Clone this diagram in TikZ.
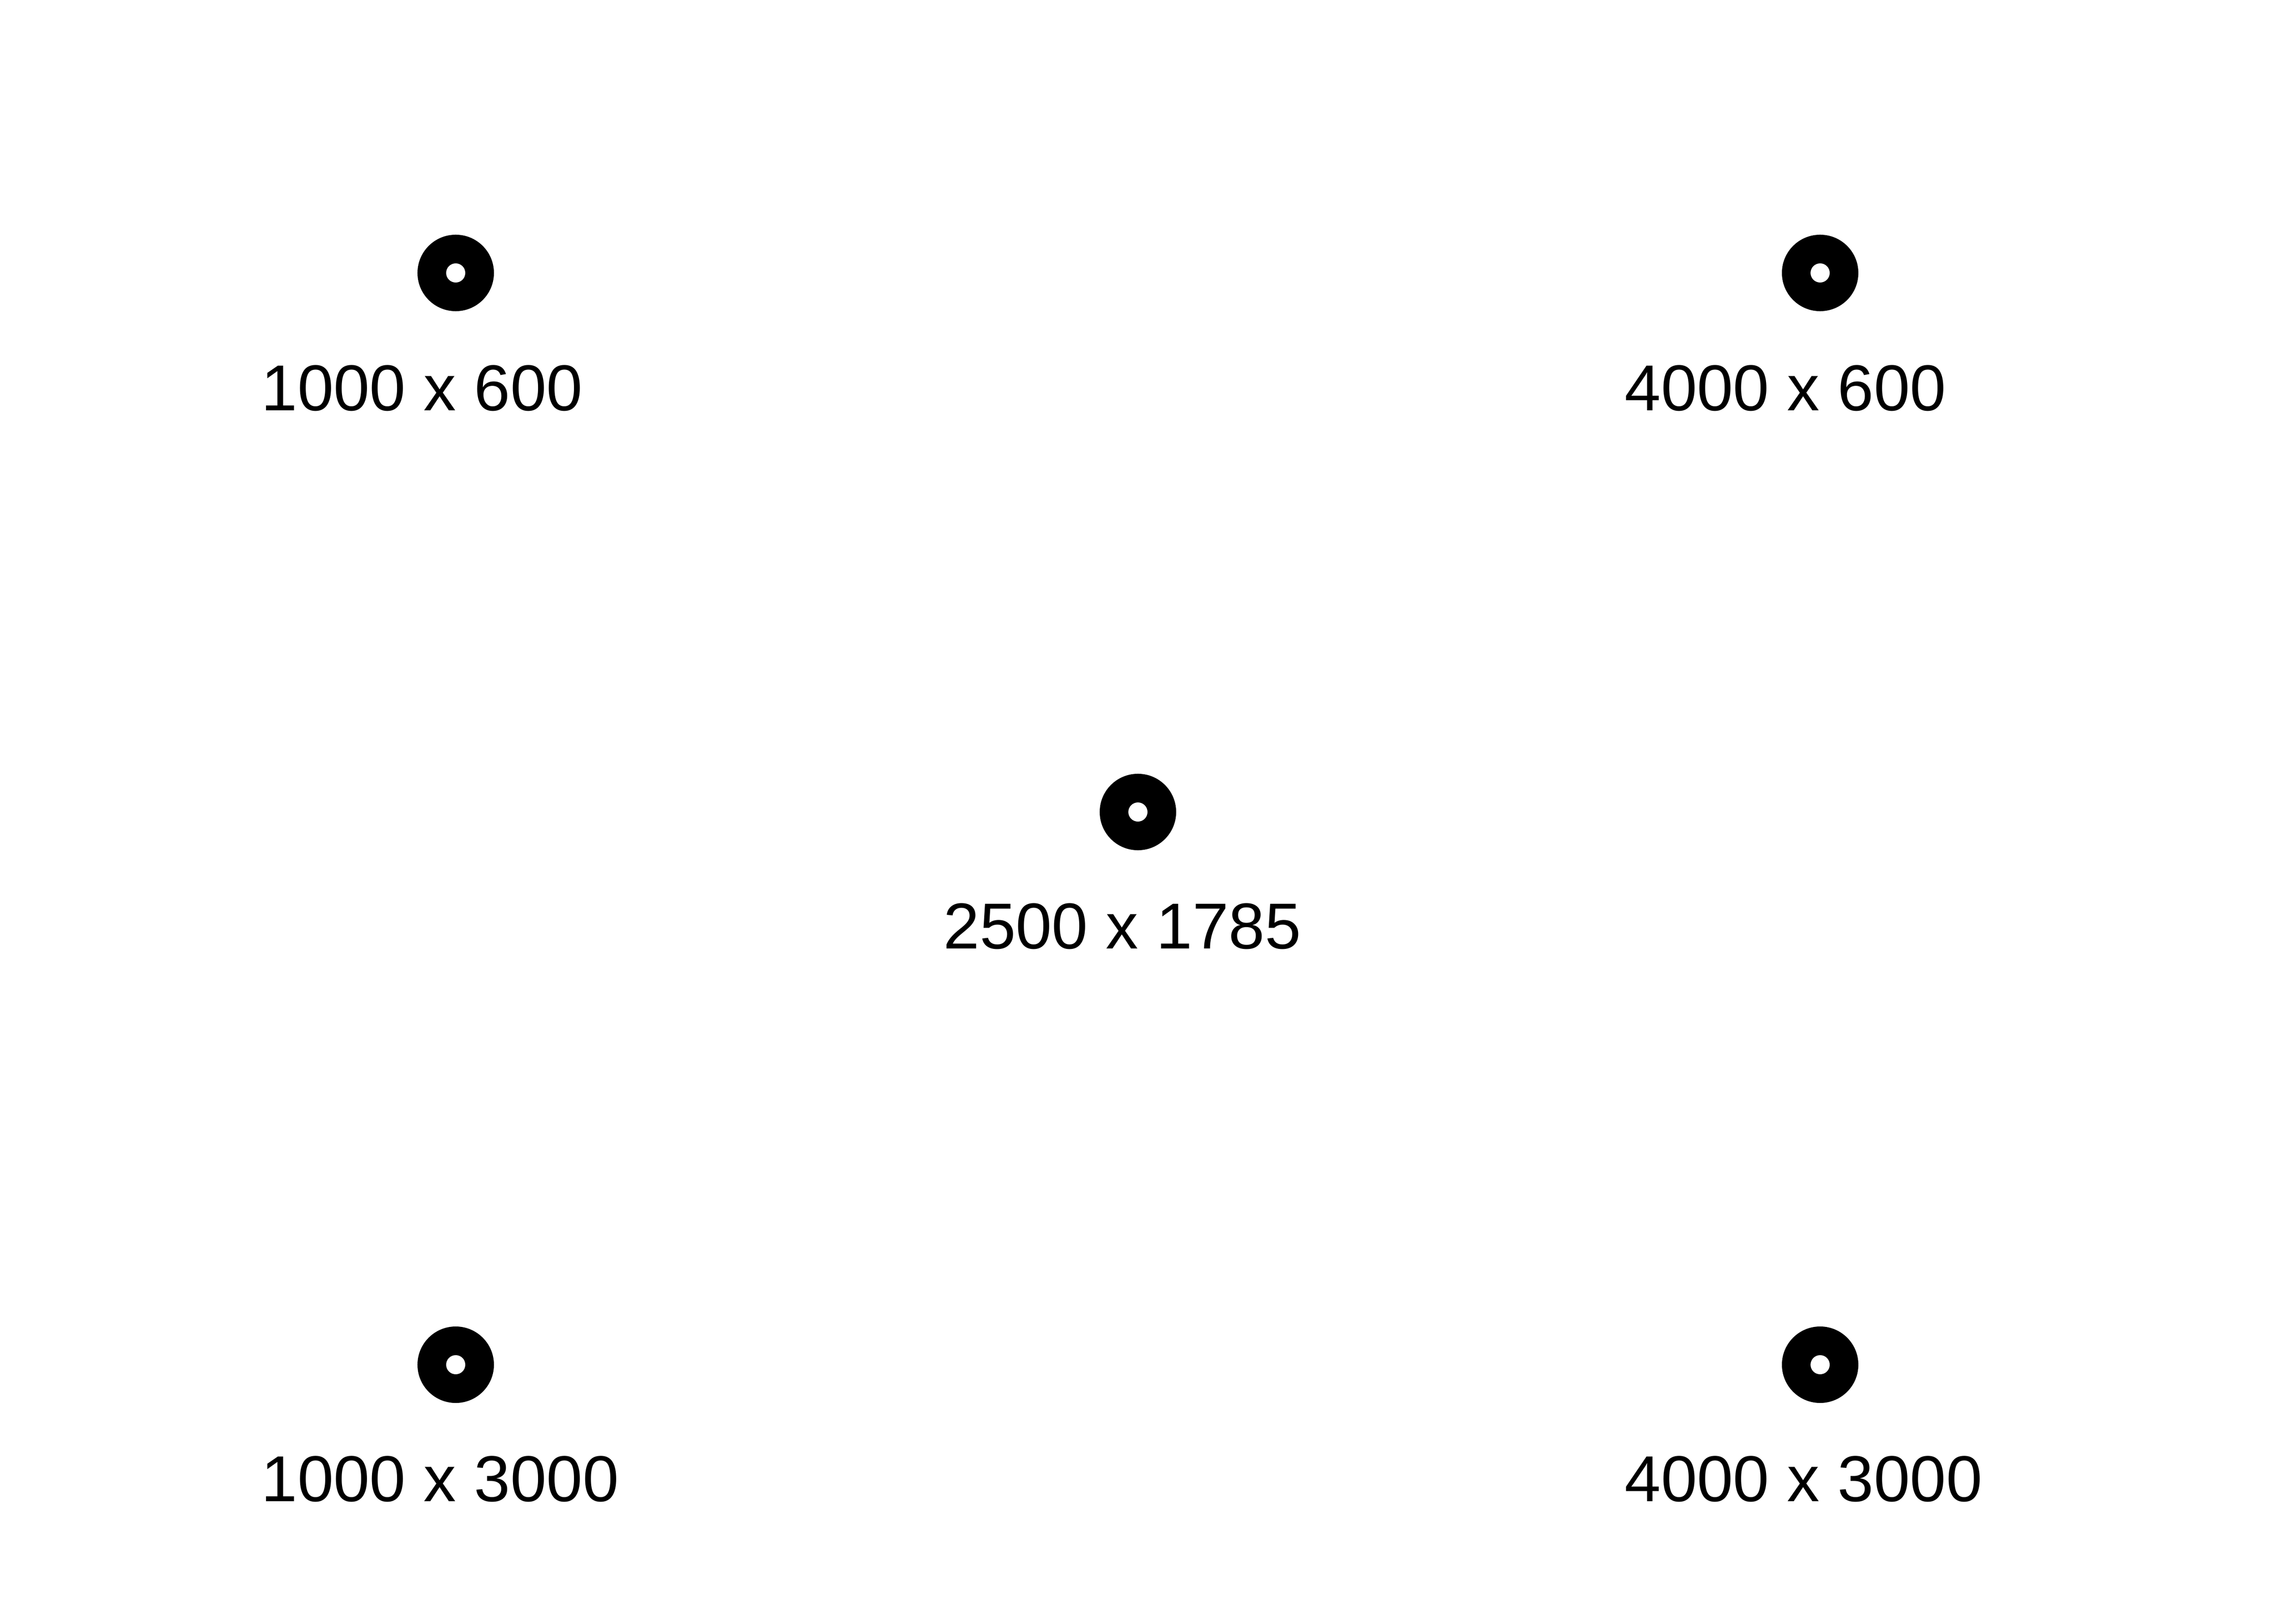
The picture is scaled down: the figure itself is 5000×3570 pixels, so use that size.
\documentclass[tikz,border=0pt]{standalone}
\usepackage{fontspec}
\setmainfont{Liberation Sans}
\begin{document}
\begin{tikzpicture}[
  x=0.01cm, y=-0.01cm,
  dotouter/.style={circle, fill=black, draw=none, inner sep=0pt, minimum size=1.68cm},
  dothole/.style={circle, fill=white, draw=none, inner sep=0pt, minimum size=0.42cm},
  lbl/.style={anchor=base west, inner sep=0pt, font=\fontsize{40.6pt}{49pt}\selectfont}
]
\useasboundingbox (0,0) rectangle (5000,3570);
\fill[white] (0,0) rectangle (5000,3570);
% points
\node[dotouter] (p1) at (1002,600) {};
\node[dothole] (h1) at (p1) {};
\node[lbl] (t1) at (574,902) {1000 x 600};

\node[dotouter] (p2) at (4002,600) {};
\node[dothole] (h2) at (p2) {};
\node[lbl] (t2) at (3572,902) {4000 x 600};

\node[dotouter] (p3) at (2502,1785) {};
\node[dothole] (h3) at (p3) {};
\node[lbl] (t3) at (2074,2085) {2500 x 1785};

\node[dotouter] (p4) at (1002,3000) {};
\node[dothole] (h4) at (p4) {};
\node[lbl] (t4) at (574,3300) {1000 x 3000};

\node[dotouter] (p5) at (4002,3000) {};
\node[dothole] (h5) at (p5) {};
\node[lbl] (t5) at (3572,3300) {4000 x 3000};
\end{tikzpicture}
\end{document}
